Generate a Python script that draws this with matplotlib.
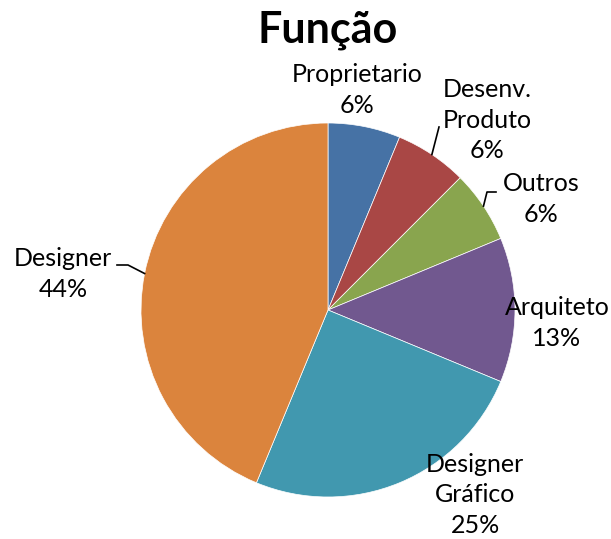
import numpy as np
import matplotlib
matplotlib.use("Agg")
import matplotlib.pyplot as plt

labels = ["Proprietario", "Desenv.\nProduto", "Outros", "Arquiteto", "Designer\nGráfico", "Designer"]
counts = [1, 1, 1, 2, 4, 7]
colors = ["#4672A5", "#A94745", "#89A54E", "#71588F", "#4198AF", "#DB843D"]

# label centres in pixel coordinates of the 611x539 image
label_px = [(357, 90), (487, 120), (541, 199), (557, 323), (475, 495), (63, 274)]
# leader lines: (elbow/end point in pixels) or None
leader_px = [None, [(439, 127)], [(487, 192), (496, 192)], None, None, [(128, 265), (117, 265)]]

W, H = 611, 539
cx, cy, R = 328, 310, 187

def px(x, y):
    return ((x - cx) / R, (cy - y) / R)

plt.rcParams["font.family"] = ["Lato", "DejaVu Sans"]
fig = plt.figure(figsize=(W / 100, H / 100), dpi=100)
ax = fig.add_axes([0, 0, 1, 1])

wedges, _ = ax.pie(counts, colors=colors, startangle=90, counterclock=False,
                   radius=1, center=(0, 0), frame=True,
                   wedgeprops=dict(edgecolor="white", linewidth=0.5))
ax.set_xlim(-cx / R, (W - cx) / R)
ax.set_ylim((cy - H) / R, cy / R)
ax.set_aspect("equal")
ax.axis("off")

total = sum(counts)
for w, lab, n, pos, lead in zip(wedges, labels, counts, label_px, leader_px):
    pct = int(n / total * 100 + 0.5)
    x, y = px(*pos)
    ax.text(x, y, f"{lab}\n{pct}%", ha="center", va="center", fontsize=18,
            linespacing=1.38, color="black")
    if lead:
        ang = np.deg2rad((w.theta1 + w.theta2) / 2)
        pts = [(np.cos(ang), np.sin(ang))] + [px(*p) for p in lead]
        xs, ys = zip(*pts)
        ax.plot(xs, ys, color="black", lw=1.2)

fig.text(328 / W, 1 - 30 / H, "Função", ha="center", va="center",
         fontsize=31, fontweight="bold")

fig.savefig("out.png", dpi=100)
